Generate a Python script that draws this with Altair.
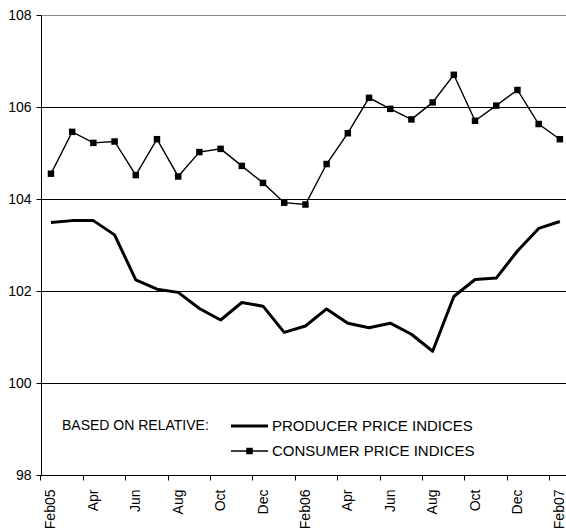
import altair as alt
import pandas as pd

# Monthly series, Feb 2005 - Feb 2007
months = ["Feb05", "Mar", "Apr", "May", "Jun", "Jul", "Aug", "Sep", "Oct", "Nov",
          "Dec", "Jan", "Feb06", "Mar", "Apr", "May", "Jun", "Jul", "Aug", "Sep",
          "Oct", "Nov", "Dec", "Jan", "Feb07"]
producer = [103.49, 103.53, 103.53, 103.22, 102.24, 102.04, 101.97, 101.62, 101.37,
            101.75, 101.67, 101.10, 101.24, 101.61, 101.30, 101.20, 101.30, 101.06,
            100.69, 101.88, 102.25, 102.28, 102.87, 103.36, 103.51]
consumer = [104.55, 105.46, 105.22, 105.25, 104.52, 105.30, 104.49, 105.02, 105.09,
            104.72, 104.35, 103.92, 103.88, 104.76, 105.43, 106.20, 105.96, 105.73,
            106.10, 106.70, 105.70, 106.03, 106.37, 105.63, 105.30]
y_ticks = [98, 100, 102, 104, 106, 108]

legend_title = "BASED ON RELATIVE:"
legend_labels = ["PRODUCER PRICE INDICES", "CONSUMER PRICE INDICES"]

df = pd.DataFrame({"idx": list(range(len(months))), "month": months,
                   "producer": producer, "consumer": consumer})

FONT = "Liberation Sans"
W, H = 525, 460
X_DOMAIN = [-0.47, 24.29]
HALF_BAND = W / (X_DOMAIN[1] - X_DOMAIN[0]) / 2

label_array = "[" + ",".join("'" + m + "'" for m in months) + "]"

x_enc = alt.X(
    "idx:Q",
    scale=alt.Scale(domain=X_DOMAIN, nice=False, zero=False),
    axis=alt.Axis(
        values=list(range(len(months))),
        labelExpr="datum.value % 2 == 0 ? " + label_array + "[datum.value] : ''",
        labelAngle=-90, labelAlign="right", labelBaseline="middle",
        labelFont=FONT, labelFontSize=14, labelColor="black",
        labelPadding=9, labelOverlap=False, labelFlush=False,
        tickSize=5, tickColor="black", tickWidth=1,
        tickOffset=-HALF_BAND, labelOffset=HALF_BAND,
        domainColor="black", domainWidth=1,
        grid=False, title=None,
    ),
)

y_scale = alt.Scale(domain=[98, 108], nice=False, zero=False)
y_axis = alt.Axis(
    values=y_ticks, format="d",
    labelFont=FONT, labelFontSize=14, labelColor="black", labelPadding=5,
    tickSize=5, tickColor="black", tickWidth=1,
    domainColor="black", domainWidth=1,
    grid=True, gridWidth=1,
    gridColor={"condition": {"test": "datum.value === 108", "value": "#8a8a8a"},
               "value": "#000000"},
    title=None,
)

base = alt.Chart(df)

ppi_line = base.mark_line(color="black", strokeWidth=3, strokeJoin="round").encode(
    x=x_enc, y=alt.Y("producer:Q", scale=y_scale, axis=y_axis)
)
cpi_line = base.mark_line(color="black", strokeWidth=1.4).encode(
    x=alt.X("idx:Q"), y=alt.Y("consumer:Q")
)
cpi_pts = base.mark_point(shape="square", size=42, filled=True, color="black",
                          opacity=1).encode(
    x=alt.X("idx:Q"), y=alt.Y("consumer:Q")
)

# Key drawn inside the plot, in pixel space
one = pd.DataFrame({"k": [0]})
TXT = dict(font=FONT, color="black", align="left", baseline="middle")
ROW1, ROW2 = 411, 436
KEY_X0, KEY_X1, KEY_TXT = 190, 227, 231

key_title = alt.Chart(one).mark_text(text=legend_title, fontSize=14, **TXT).encode(
    x=alt.value(21), y=alt.value(ROW1))
key_ppi = alt.Chart(one).mark_rule(color="black", strokeWidth=3).encode(
    x=alt.value(KEY_X0), x2=alt.value(KEY_X1), y=alt.value(ROW1))
key_ppi_txt = alt.Chart(one).mark_text(text=legend_labels[0], fontSize=15, **TXT).encode(
    x=alt.value(KEY_TXT), y=alt.value(ROW1))
key_cpi = alt.Chart(one).mark_rule(color="black", strokeWidth=1.4).encode(
    x=alt.value(KEY_X0), x2=alt.value(KEY_X1), y=alt.value(ROW2))
key_cpi_pt = alt.Chart(one).mark_point(shape="square", size=42, filled=True,
                                       color="black", opacity=1).encode(
    x=alt.value((KEY_X0 + KEY_X1) / 2), y=alt.value(ROW2))
key_cpi_txt = alt.Chart(one).mark_text(text=legend_labels[1], fontSize=15, **TXT).encode(
    x=alt.value(KEY_TXT), y=alt.value(ROW2))

chart = alt.layer(
    ppi_line, cpi_line, cpi_pts,
    key_title, key_ppi, key_ppi_txt, key_cpi, key_cpi_pt, key_cpi_txt,
).properties(
    width=W, height=H,
    autosize=alt.AutoSizeParams(type="none"),
    padding={"left": 41, "top": 15, "right": 0, "bottom": 54},
    background="white",
).configure_view(stroke=None)

chart.save("out.html", embed_options={"renderer": "svg", "actions": False})
